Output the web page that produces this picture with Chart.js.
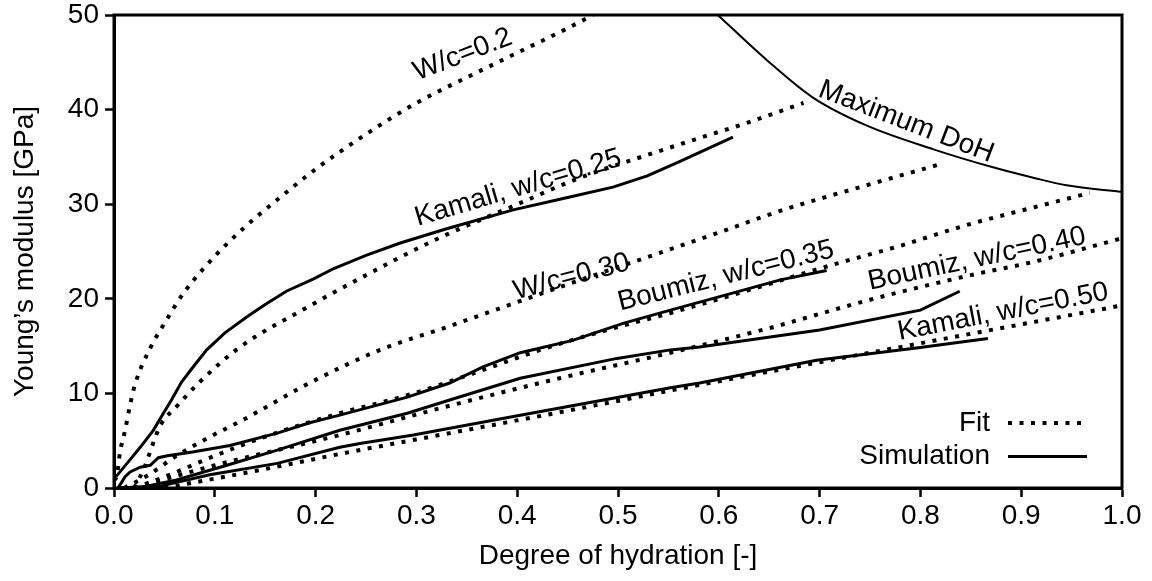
<!DOCTYPE html>
<html>
<head>
<meta charset="utf-8">
<script src="https://cdn.jsdelivr.net/npm/chart.js@4.4.1/dist/chart.umd.min.js"></script>
<style>
  html, body { margin: 0; padding: 0; background: #fff; }
  #wrap { width: 1152px; height: 581px; }
</style>
</head>
<body>
<div id="wrap"><canvas id="chart" width="1152" height="581"></canvas></div>
<script>
// fits (dotted)
const fit20X = [0.0, 0.003, 0.006, 0.011, 0.016, 0.021, 0.036, 0.05, 0.069, 0.1, 0.13, 0.16, 0.2, 0.25, 0.3, 0.35, 0.4, 0.45, 0.475];
const fit20Y = [0.8, 1.4, 3.8, 6.1, 8.8, 11.0, 14.8, 17.4, 20.6, 24.5, 27.6, 30.3, 33.7, 37.4, 40.7, 43.4, 46.0, 48.6, 50.0];
const fit25X = [0.02, 0.029, 0.046, 0.062, 0.085, 0.125, 0.19, 0.25, 0.32, 0.396, 0.46, 0.529, 0.581, 0.628, 0.684];
const fit25Y = [0.0, 1.9, 6.6, 8.6, 11.2, 14.9, 19.0, 22.5, 26.3, 29.8, 32.7, 35.2, 37.0, 38.6, 40.7];
const fit30X = [0.01, 0.033, 0.062, 0.095, 0.128, 0.194, 0.264, 0.33, 0.396, 0.46, 0.529, 0.6, 0.661, 0.74, 0.822];
const fit30Y = [0.0, 1.3, 3.4, 5.4, 7.2, 11.1, 14.6, 17.0, 19.5, 21.9, 24.4, 27.0, 29.3, 31.8, 34.3];
const fit35X = [0.02, 0.053, 0.1, 0.152, 0.224, 0.291, 0.356, 0.423, 0.489, 0.552, 0.62, 0.713, 0.78, 0.846, 0.91, 0.968];
const fit35Y = [0.0, 1.3, 3.4, 5.5, 7.9, 9.8, 12.1, 14.6, 16.7, 18.5, 20.6, 23.6, 25.6, 27.8, 29.6, 31.2];
const fit40X = [0.02, 0.1, 0.224, 0.333, 0.442, 0.552, 0.65, 0.75, 0.85, 0.912, 1.0];
const fit40Y = [0.0, 2.4, 5.6, 8.7, 11.6, 14.3, 16.9, 19.9, 22.5, 23.9, 26.4];
const fit50X = [0.05, 0.15, 0.224, 0.333, 0.442, 0.552, 0.65, 0.75, 0.85, 0.95, 1.0];
const fit50Y = [0.0, 2.0, 3.6, 5.8, 8.0, 10.3, 12.3, 14.3, 16.3, 18.3, 19.3];

// simulations (solid)
const sim25X = [0.002, 0.009, 0.016, 0.026, 0.039, 0.049, 0.057, 0.067, 0.08, 0.092, 0.11, 0.132, 0.15, 0.171, 0.198, 0.218, 0.25, 0.284, 0.33, 0.396, 0.45, 0.495, 0.529, 0.561, 0.614];
const sim25Y = [1.2, 2.1, 3.0, 4.3, 6.1, 7.9, 9.3, 11.2, 13.0, 14.6, 16.4, 18.1, 19.4, 20.8, 22.1, 23.2, 24.6, 25.9, 27.4, 29.4, 30.7, 31.8, 33.0, 34.5, 37.1];
const sim35X = [0.004, 0.011, 0.016, 0.026, 0.036, 0.044, 0.053, 0.078, 0.115, 0.162, 0.194, 0.224, 0.291, 0.333, 0.366, 0.403, 0.455, 0.505, 0.552, 0.6, 0.661, 0.707];
const sim35Y = [0.0, 1.2, 1.7, 2.2, 2.4, 3.2, 3.4, 3.8, 4.5, 5.8, 6.9, 7.7, 9.6, 11.1, 12.8, 14.3, 15.6, 17.4, 18.8, 20.2, 22.0, 23.0];
const sim40X = [0.003, 0.029, 0.062, 0.112, 0.162, 0.224, 0.291, 0.333, 0.403, 0.499, 0.552, 0.581, 0.7, 0.8, 0.839];
const sim40Y = [0.0, 0.1, 0.85, 2.4, 4.0, 6.1, 7.9, 9.3, 11.6, 13.7, 14.6, 14.9, 16.7, 18.8, 20.8];
const sim50X = [0.003, 0.046, 0.095, 0.162, 0.224, 0.244, 0.297, 0.403, 0.552, 0.581, 0.697, 0.796, 0.867];
const sim50Y = [0.0, 0.2, 1.4, 2.6, 4.3, 4.7, 5.6, 7.7, 10.6, 11.1, 13.5, 14.8, 15.8];

// maximum degree of hydration
const maxDohX = [0.599, 0.648, 0.693, 0.747, 0.813, 0.872, 0.912, 0.945, 1.0];
const maxDohY = [50.0, 45.2, 41.3, 38.3, 35.8, 33.9, 32.8, 32.0, 31.3];

// text placed along the curves (data coords, rotation in degrees)
const curveLabels = [
    { text: "W/c=0.2", x: 0.346, y: 45.8, angle: -21 },
    { text: "Kamali, w/c=0.25", x: 0.401, y: 31.7, angle: -16.5 },
    { text: "W/c=0.30", x: 0.454, y: 22.3, angle: -14.5 },
    { text: "Boumiz, w/c=0.35", x: 0.607, y: 22.4, angle: -14 },
    { text: "Boumiz, w/c=0.40", x: 0.856, y: 24.2, angle: -12 },
    { text: "Kamali, w/c=0.50", x: 0.882, y: 18.6, angle: -11 },
    { text: "Maximum DoH", x: 0.786, y: 38.7, angle: 21 }
];

const FONT = "'Liberation Sans', Arial, Helvetica, sans-serif";
const DOTS = [4, 7.5];

const pts = (xs, ys) => xs.map((x, i) => ({ x: x, y: ys[i] }));

const fit = (xs, ys) => ({
    data: pts(xs, ys),
    showLine: true,
    borderColor: "#000",
    borderWidth: 4,
    borderDash: DOTS,
    pointRadius: 0,
    cubicInterpolationMode: "monotone"
});

const sim = (xs, ys) => ({
    data: pts(xs, ys),
    showLine: true,
    borderColor: "#000",
    borderWidth: 3,
    pointRadius: 0,
    tension: 0
});

const decorations = {
    id: "decorations",
    afterDraw(chart) {
        const ctx = chart.ctx;
        const a = chart.chartArea;
        const xs = chart.scales.x;
        const ys = chart.scales.y;

        // frame
        ctx.save();
        ctx.strokeStyle = "#000";
        ctx.lineWidth = 3;
        ctx.strokeRect(a.left, a.top, a.right - a.left, a.bottom - a.top);

        // curve labels
        ctx.fillStyle = "#000";
        ctx.font = "28px " + FONT;
        ctx.textAlign = "center";
        ctx.textBaseline = "middle";
        curveLabels.forEach(l => {
            ctx.save();
            ctx.translate(xs.getPixelForValue(l.x), ys.getPixelForValue(l.y));
            ctx.rotate(l.angle * Math.PI / 180);
            ctx.fillText(l.text, 0, 0);
            ctx.restore();
        });

        // legend
        const textRight = a.right - 132;
        const lineL = a.right - 114;
        const lineR = a.right - 35;
        const yFit = a.bottom - 65;
        const ySim = a.bottom - 31.5;
        ctx.textAlign = "right";
        ctx.fillText("Fit", textRight, yFit);
        ctx.fillText("Simulation", textRight, ySim);

        ctx.lineWidth = 4;
        ctx.setLineDash(DOTS);
        ctx.beginPath();
        ctx.moveTo(lineL, yFit);
        ctx.lineTo(lineR, yFit);
        ctx.stroke();

        ctx.lineWidth = 3;
        ctx.setLineDash([]);
        ctx.beginPath();
        ctx.moveTo(lineL, ySim);
        ctx.lineTo(lineR, ySim);
        ctx.stroke();
        ctx.restore();
    }
};

Chart.defaults.font.family = FONT;
Chart.defaults.font.size = 28;
Chart.defaults.color = "#000";

new Chart(document.getElementById("chart"), {
    type: "scatter",
    data: {
        datasets: [
            fit(fit20X, fit20Y),
            fit(fit25X, fit25Y),
            fit(fit30X, fit30Y),
            fit(fit35X, fit35Y),
            fit(fit40X, fit40Y),
            fit(fit50X, fit50Y),
            sim(sim25X, sim25Y),
            sim(sim35X, sim35Y),
            sim(sim40X, sim40Y),
            sim(sim50X, sim50Y),
            {
                data: pts(maxDohX, maxDohY),
                showLine: true,
                borderColor: "#000",
                borderWidth: 2,
                pointRadius: 0,
                cubicInterpolationMode: "monotone"
            }
        ]
    },
    options: {
        responsive: false,
        animation: false,
        events: [],
        layout: { padding: { left: 0, right: 30, top: 15, bottom: 0 } },
        plugins: {
            legend: { display: false },
            tooltip: { enabled: false }
        },
        scales: {
            x: {
                type: "linear",
                min: 0,
                max: 1,
                afterFit: s => { s.height = 93; },
                border: { color: "#000", width: 3 },
                grid: { drawOnChartArea: false, tickLength: 9, tickColor: "#000", tickWidth: 2.5 },
                ticks: {
                    stepSize: 0.1,
                    autoSkip: false,
                    maxRotation: 0,
                    padding: 5,
                    font: { size: 28, lineHeight: 1 },
                    callback: v => v.toFixed(1)
                },
                title: {
                    display: true,
                    text: "Degree of hydration [-]",
                    font: { size: 28 },
                    padding: { top: 0, bottom: 8 }
                }
            },
            y: {
                type: "linear",
                min: 0,
                max: 50,
                afterFit: s => { s.width = 114; },
                border: { color: "#000", width: 3 },
                grid: { drawOnChartArea: false, tickLength: 9, tickColor: "#000", tickWidth: 2.5 },
                ticks: {
                    stepSize: 10,
                    padding: 6,
                    font: { size: 28, lineHeight: 0.6 }
                },
                title: {
                    display: true,
                    text: "Young\u2019s modulus [GPa]",
                    font: { size: 28 },
                    padding: { top: 8, bottom: 0 }
                }
            }
        }
    },
    plugins: [decorations]
});
</script>
</body>
</html>
